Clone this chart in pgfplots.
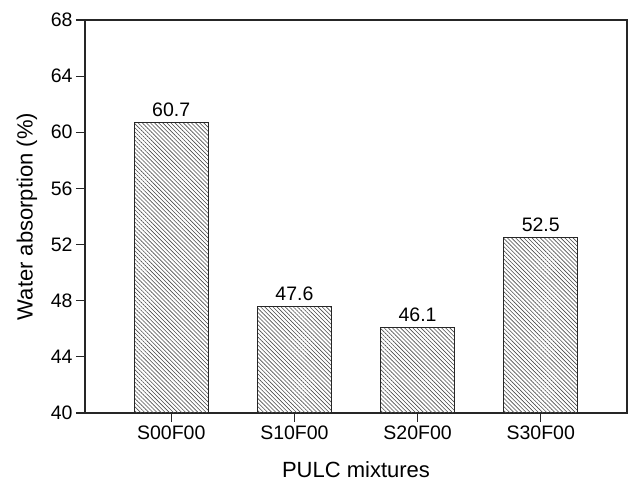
\documentclass[border=0pt]{standalone}
\usepackage{fontspec}
\setmainfont{Liberation Sans}
\usepackage{pgfplots}
\pgfplotsset{compat=1.18}
\usetikzlibrary{patterns.meta,calc}
\begin{document}
\begin{tikzpicture}
\begin{axis}[
 scale only axis, width=542pt, height=393pt,
 xmin=-0.7, xmax=3.7, ymin=40, ymax=68,
 ytick={40,44,...,68},
 xtick={0,1,2,3}, xticklabels={S00F00,S10F00,S20F00,S30F00},
 tick align=outside, major tick length=9pt, minor tick num=0,
 xtick pos=bottom, ytick pos=left,
 axis line style={line width=1.2pt, black!85},
 tick style={line width=1.2pt, black!85},
 ticklabel style={font=\fontsize{19.5}{21}\selectfont},
 /pgf/number format/assume math mode=true,
 xlabel={PULC mixtures}, ylabel={Water absorption (\%)},
 label style={font=\fontsize{22}{24}\selectfont},
 xlabel style={at={(axis description cs:0.5,-0.145)}, anchor=center},
 ylabel style={at={(axis description cs:-0.107,0.5)}, anchor=center},
 ybar, bar width=0.6,
 nodes near coords,
 nodes near coords style={font=\fontsize{19.5}{21}\selectfont, /pgf/number format/fixed, /pgf/number format/fixed zerofill, /pgf/number format/precision=1, yshift=2pt},
]
\addplot[draw=black!85, line width=0.9pt, pattern={Lines[angle=-45,distance=2.9pt,line width=0.6pt]}, pattern color=black!70]
 coordinates {(0,60.7) (1,47.6) (2,46.1) (3,52.5)};
\end{axis}
\pgfresetboundingbox
\path ($(current axis.south west)+(-85pt,-68pt)$) rectangle ($(current axis.north east)+(2pt,20pt)$);
\end{tikzpicture}
\end{document}
